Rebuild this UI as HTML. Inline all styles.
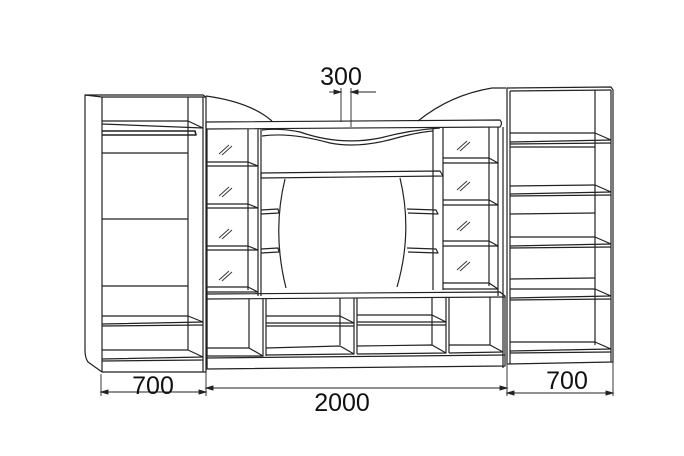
<!DOCTYPE html>
<html><head><meta charset="utf-8"><style>
html,body{margin:0;padding:0;background:#fff;}
svg{display:block}
text{font-family:"Liberation Sans",sans-serif;fill:#111}
</style></head><body>
<svg width="684" height="456" viewBox="0 0 684 456" xmlns="http://www.w3.org/2000/svg">
<g fill="none" stroke="#222" stroke-width="1.2" stroke-linejoin="round">
<!-- LEFT WARDROBE -->
<path d="M85 95 L203 95 L206 97 L206 372 L102 372 L88 362 Q85 358 85 350 Z"/>
<line x1="85" y1="95" x2="102" y2="97"/>
<line x1="102" y1="97" x2="206" y2="97"/>
<line x1="102" y1="97" x2="102" y2="372"/>
<line x1="203" y1="97" x2="203" y2="372"/>
<line x1="188" y1="97" x2="188" y2="350"/>
<path d="M102 121 L188 121 L203 128 M102 124 L203 128"/>
<path d="M102 131 L195 131 L196 135 L102 135" stroke-width="1.6"/>
<line x1="102" y1="153" x2="188" y2="153"/>
<line x1="102" y1="219" x2="188" y2="219"/>
<line x1="102" y1="286" x2="188" y2="286"/>
<path d="M102 316 L188 316 L203 322 L102 324 M102 326 L203 325"/>
<path d="M102 350 L188 350 L203 357 L102 359 M102 361 L203 360"/>
<!-- arcs on top -->
<path d="M206 96 Q250 102 272 121"/>
<path d="M418 121 Q450 95 492 88 L506 88"/>
<!-- MIDDLE top panel -->
<path d="M206 122 L500 120 Q503 123 500 127 L206 129 Z"/>
<path d="M262 130 Q280 128 300 132 Q340 146 380 138 Q410 130 440 128"/>
<path d="M262 136 Q290 132 330 143 Q360 149 400 137 Q420 132 433 131"/>
<!-- left glass column -->
<line x1="207" y1="129" x2="207" y2="368"/>
<line x1="248" y1="129" x2="248" y2="290"/>
<line x1="258" y1="129" x2="258" y2="296"/>
<line x1="261" y1="129" x2="261" y2="296"/>
<path d="M207 162 L248 162 L258 166 L207 166"/>
<path d="M207 204 L248 204 L258 208 L207 208"/>
<path d="M207 246 L248 246 L258 250 L207 250"/>
<path d="M207 287 L248 287 L258 292 L207 292"/>
<!-- right glass column -->
<line x1="433" y1="127" x2="433" y2="290"/>
<line x1="443" y1="127" x2="443" y2="290"/>
<line x1="489" y1="127" x2="489" y2="286"/>
<line x1="498" y1="127" x2="498" y2="296"/>
<line x1="503" y1="127" x2="503" y2="368"/>
<path d="M443 158 L489 158 L498 163 L443 163"/>
<path d="M443 200 L489 200 L498 205 L443 205"/>
<path d="M443 241 L489 241 L498 246 L443 246"/>
<path d="M443 283 L489 283 L498 289 L443 289"/>
<!-- TV area -->
<path d="M261 173 L440 171 L443 176 L261 178 Z"/>
<path d="M285 179 Q272 232 286 288"/>
<path d="M400 178 Q413 232 397 287"/>
<path d="M261 210 L278 209 L279 213 L261 214"/>
<path d="M261 249 L278 248 L279 252 L261 253"/>
<path d="M407 209 L436 210 L438 214 L408 213"/>
<path d="M407 248 L436 249 L438 253 L408 252"/>
<!-- base section -->
<path d="M207 294 L500 292 L505 296 L505 366 L207 369 Z"/>
<line x1="207" y1="299" x2="505" y2="297"/>
<line x1="249" y1="299" x2="249" y2="348"/>
<line x1="263" y1="299" x2="263" y2="356"/>
<line x1="266" y1="299" x2="266" y2="356"/>
<line x1="340" y1="298" x2="340" y2="345"/>
<line x1="354" y1="298" x2="354" y2="354"/>
<line x1="357" y1="298" x2="357" y2="354"/>
<line x1="432" y1="297" x2="432" y2="345"/>
<line x1="446" y1="297" x2="446" y2="353"/>
<line x1="449" y1="297" x2="449" y2="353"/>
<line x1="490" y1="297" x2="490" y2="345"/>
<path d="M266 316 L340 316 L354 323 L266 323 M266 326 L354 326"/>
<path d="M357 315 L432 315 L446 322 L357 322 M357 325 L446 325"/>
<path d="M207 348 L249 348 L263 356 L207 356"/>
<path d="M266 348 L340 346 L354 354 L266 355"/>
<path d="M357 346 L432 345 L446 353 L357 354"/>
<path d="M449 345 L490 345 L503 352 L449 353"/>
<line x1="207" y1="358" x2="505" y2="355"/>
<!-- RIGHT BOOKCASE -->
<path d="M507 88 L611 87 L613 90 L613 362 L507 364 Z"/>
<line x1="510" y1="91" x2="611" y2="90"/>
<line x1="510" y1="91" x2="510" y2="364"/>
<line x1="611" y1="90" x2="611" y2="362"/>
<line x1="595" y1="90" x2="595" y2="345"/>
<path d="M510 133 L595 133 L611 140 L510 142 M510 144 L611 143 M510 147 L595 147"/>
<path d="M510 186 L595 185 L611 192 L510 194 M510 196 L611 195"/>
<path d="M510 214 L595 213"/>
<path d="M510 237 L595 237 L611 244 L510 246 M510 248 L611 247"/>
<path d="M510 279 L595 278"/>
<path d="M510 289 L595 289 L611 296 L510 298 M510 300 L611 299"/>
<path d="M510 342 L595 342 L611 349 L510 351 M510 353 L611 352"/>
</g>
<!-- glass marks -->
<g stroke="#333" stroke-width="0.9">
<path d="M219 154 L229 145 M222 155 L232 146"/>
<path d="M219 196 L229 187 M222 197 L232 188"/>
<path d="M219 238 L229 229 M222 239 L232 230"/>
<path d="M219 280 L229 271 M222 281 L232 272"/>
<path d="M457 150 L467 141 M460 151 L470 142"/>
<path d="M457 190 L467 181 M460 191 L470 182"/>
<path d="M457 230 L467 221 M460 231 L470 222"/>
<path d="M457 270 L467 261 M460 271 L470 262"/>
</g>
<!-- dimensions -->
<g stroke="#222" stroke-width="0.9" fill="#222">
<line x1="101" y1="374" x2="101" y2="396"/>
<line x1="206" y1="372" x2="206" y2="396"/>
<line x1="101" y1="392" x2="206" y2="392"/>
<path d="M101 392 l7 -2 v4 Z M206 392 l-7 -2 v4 Z"/>
<line x1="206" y1="388" x2="507" y2="388"/>
<path d="M206 388 l7 -2 v4 Z M507 388 l-7 -2 v4 Z"/>
<line x1="507" y1="364" x2="507" y2="396"/>
<line x1="613" y1="362" x2="613" y2="396"/>
<line x1="507" y1="393" x2="613" y2="393"/>
<path d="M507 393 l7 -2 v4 Z M613 393 l-7 -2 v4 Z"/>
<line x1="341" y1="88" x2="341" y2="122"/>
<line x1="351" y1="88" x2="351" y2="127"/>
<line x1="329" y1="92" x2="341" y2="92"/>
<line x1="351" y1="92" x2="376" y2="92"/>
<path d="M341 92 l-7 -2 v4 Z M351 92 l7 -2 v4 Z"/>
</g>
<text x="341" y="85" font-size="25" text-anchor="middle">300</text>
<text x="153" y="394" font-size="25" text-anchor="middle">700</text>
<text x="342" y="411" font-size="25" text-anchor="middle">2000</text>
<text x="567" y="389" font-size="25" text-anchor="middle">700</text>
</svg>
</body></html>
